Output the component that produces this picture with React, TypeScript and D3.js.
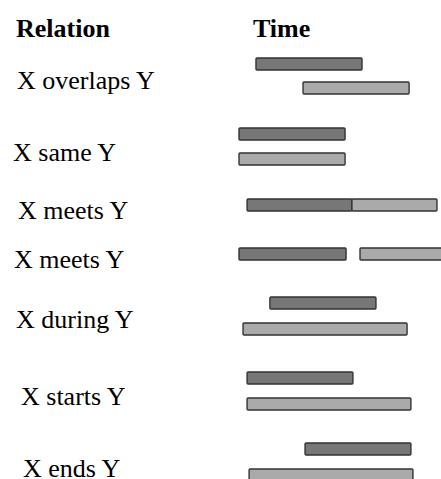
import { useEffect, useRef } from 'react';
import * as d3 from 'd3';

// ── Data (time in abstract units, 0..100) ──

const RELATIONS = [
  'X overlaps Y',
  'X same Y',
  'X meets Y',
  'X meets Y',
  'X during Y',
  'X starts Y',
  'X ends Y',
];

const X_START = [8.4, 0, 4, 0, 15.3, 4, 32.7];
const X_END = [60.9, 52.5, 55.9, 53, 67.8, 56.4, 85.1];
const Y_START = [31.7, 0, 55.9, 59.9, 2, 4, 5];
const Y_END = [84.2, 52.5, 98, 102, 83.2, 85.1, 86.1];

// ── Layout ──

const W = 441;
const H = 479;
const BAR_H = 12;
const X_TOP = [58, 128, 199, 248, 297, 372, 443];
const Y_TOP = [82, 153, 199, 248, 323, 398, 469];
const LABEL_X = [17, 13, 18, 14, 16, 21, 23];
const LABEL_BASE = [89, 161, 219, 268, 328, 405, 477];

const DARK = '#777777';
const LIGHT = '#aaaaaa';
const STROKE = '#333333';
const FONT = '"Liberation Serif", "Times New Roman", serif';

interface Bar {
  start: number;
  end: number;
  top: number;
  fill: string;
}

export default function App() {
  const svgRef = useRef<SVGSVGElement>(null);

  useEffect(() => {
    const svgEl = svgRef.current;
    if (!svgEl) return;
    const svg = d3.select(svgEl);
    svg.selectAll('*').remove();

    const x = d3.scaleLinear().domain([0, 100]).range([239, 441]);

    // headers
    svg
      .append('text')
      .attr('x', 16)
      .attr('y', 37)
      .attr('font-family', FONT)
      .attr('font-size', 26)
      .attr('font-weight', 700)
      .attr('fill', '#000')
      .text('Relation');
    svg
      .append('text')
      .attr('x', 253)
      .attr('y', 37)
      .attr('font-family', FONT)
      .attr('font-size', 26)
      .attr('font-weight', 700)
      .attr('fill', '#000')
      .text('Time');

    // relation labels
    svg
      .selectAll('.rel-label')
      .data(RELATIONS)
      .enter()
      .append('text')
      .attr('class', 'rel-label')
      .attr('x', (_, i) => LABEL_X[i])
      .attr('y', (_, i) => LABEL_BASE[i])
      .attr('font-family', FONT)
      .attr('font-size', 26)
      .attr('fill', '#000')
      .text((d) => d);

    // bars: X (dark) then Y (light)
    const bars: Bar[] = [];
    RELATIONS.forEach((_, i) => {
      bars.push({ start: X_START[i], end: X_END[i], top: X_TOP[i], fill: DARK });
      bars.push({ start: Y_START[i], end: Y_END[i], top: Y_TOP[i], fill: LIGHT });
    });

    svg
      .selectAll('.bar')
      .data(bars)
      .enter()
      .append('rect')
      .attr('class', 'bar')
      .attr('x', (d) => x(d.start))
      .attr('y', (d) => d.top)
      .attr('width', (d) => x(d.end) - x(d.start))
      .attr('height', BAR_H)
      .attr('rx', 1)
      .attr('fill', (d) => d.fill)
      .attr('stroke', STROKE)
      .attr('stroke-width', 1.4);

    return () => {
      svg.selectAll('*').remove();
    };
  }, []);

  return (
    <div style={{ position: 'fixed', left: 0, top: 0, width: W, height: H, background: '#fff' }}>
      <svg ref={svgRef} width={W} height={H} style={{ display: 'block' }} />
    </div>
  );
}
